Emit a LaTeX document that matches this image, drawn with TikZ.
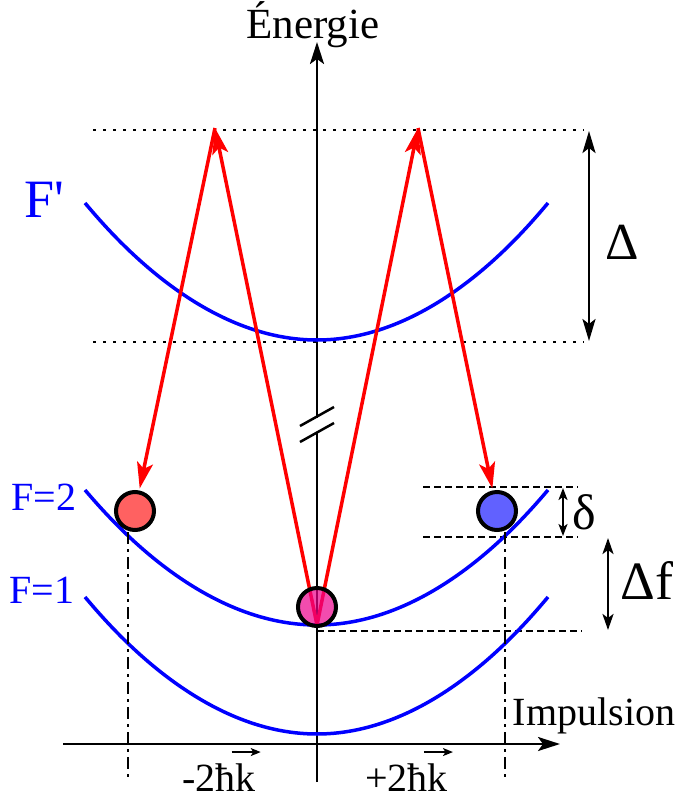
\documentclass[tikz,border=0pt]{standalone}
\usepackage{fontspec}
\setmainfont{Liberation Serif}
\usepackage{xcolor}
\usetikzlibrary{arrows.meta}

\begin{document}
\begin{tikzpicture}[x=1pt,y=-1pt,
  level/.style={blue,line width=3.5pt},
  photon/.style={red,line width=3.5pt,-{Stealth[length=26pt,width=16pt,inset=6pt]}},
  atom/.style={circle,draw=black,line width=4pt,minimum size=38pt,inner sep=0pt},
  axis/.style={line width=2.5pt,-{Stealth[length=22pt,width=14pt,inset=5pt]}},
  gap/.style={line width=2.5pt,{Stealth[length=22pt,width=13pt,inset=5pt]}-{Stealth[length=22pt,width=13pt,inset=5pt]}},
  vecarrow/.style={line width=1.5pt,-{Stealth[length=10pt,width=8pt,inset=2.5pt]}},
  dotline/.style={line width=2.5pt,dash pattern=on 3pt off 7pt},
  dashline/.style={line width=2.5pt,dash pattern=on 7pt off 4pt},
  proj/.style={line width=2.5pt,dash pattern=on 12pt off 5pt on 3pt off 5pt}]
\useasboundingbox (0,0) rectangle (680,796);

\draw[dotline] (93,130) -- (584,130);
\draw[dotline] (93,342) -- (584,342);
\draw[dashline] (423,487) -- (578,487);
\draw[dashline] (423,537) -- (578,537);
\draw[dashline] (317,631) -- (582,631);

\draw[axis] (317,782) -- (317,42);
\draw[axis] (63,744) -- (560,744);
\fill[white] (298,418) rectangle (337,432);
\draw[line width=2.5pt] (300,426) -- (334,407);
\draw[line width=2.5pt] (300,442) -- (334,423);

\draw[level] (85,203) parabola bend (317,340) (548,203);
\draw[level] (85,490) parabola bend (317,625) (548,490);
\draw[level] (85,597) parabola bend (317,734) (548,597);

\draw[proj] (128,532) -- (128,780);
\draw[proj] (505,532) -- (505,780);

\coordinate (vtx) at (317,625);
\coordinate (topL) at (215,128);
\coordinate (topR) at (418,128);
\node[atom,fill=red!62] (atomL) at (135,511) {};
\node[atom,fill=blue!62] (atomR) at (497,511) {};
\draw[photon] (vtx) -- (topL);
\draw[photon] (vtx) -- (topR);
\draw[photon,shorten >=2pt] (topL) -- (atomL);
\draw[photon,shorten >=2pt] (topR) -- (atomR);
\node[atom,fill=magenta,fill opacity=0.7] (atom0) at (317,607) {};

\draw[gap] (589,131) -- (589,341);
\draw[gap,{Stealth[length=12pt,width=9pt,inset=3pt]}-{Stealth[length=12pt,width=9pt,inset=3pt]},line width=2pt] (563,488) -- (563,536);
\draw[gap,{Stealth[length=16pt,width=11pt,inset=4pt]}-{Stealth[length=16pt,width=11pt,inset=4pt]}] (608,538) -- (608,630);

\node[anchor=base,font=\fontsize{43}{50}\selectfont] (nrj) at (313,38) {Énergie};
\node[anchor=base,font=\fontsize{40}{46}\selectfont] (imp) at (594,725) {Impulsion};
\node[blue,font=\fontsize{54}{62}\selectfont] (Fp) at (44,200) {F\textquotesingle};
\node[blue,font=\fontsize{40}{46}\selectfont] (F2) at (44,497) {F=2};
\node[blue,font=\fontsize{40}{46}\selectfont] (F1) at (42,590) {F=1};
\node[font=\fontsize{52}{60}\selectfont] (Dl) at (622,242) {Δ};
\node[font=\fontsize{50}{58}\selectfont] (dl) at (584,512) {δ};
\node[font=\fontsize{54}{62}\selectfont] (Df) at (647,580) {Δf};
\node[anchor=base west,inner sep=0pt,font=\fontsize{40}{46}\selectfont] (pm) at (182,791) {-2ħk};
\node[anchor=base west,inner sep=0pt,font=\fontsize{40}{46}\selectfont] (pp) at (365,791) {+2ħk};
\draw[vecarrow] ([xshift=-24pt,yshift=11pt]pm.north east) -- ([xshift=5pt,yshift=11pt]pm.north east);
\draw[vecarrow] ([xshift=-24pt,yshift=11pt]pp.north east) -- ([xshift=5pt,yshift=11pt]pp.north east);
\end{tikzpicture}
\end{document}
